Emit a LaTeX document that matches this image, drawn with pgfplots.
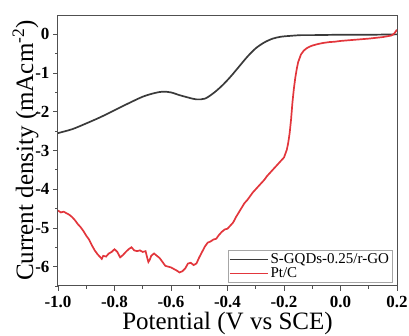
\documentclass[border=0pt]{standalone}
\usepackage{pgfplots}
\pgfplotsset{compat=1.18}
\usepackage{fontspec}
\setmainfont{Liberation Serif}
\definecolor{blk}{HTML}{3A3A3A}
\definecolor{rd}{HTML}{E2363C}
\definecolor{frame}{HTML}{505050}
\begin{document}
\begin{tikzpicture}
\begin{axis}[
  name=ax,
  scale only axis,
  width=339pt, height=271pt,
  xmin=-1.0, xmax=0.2, ymin=-6.5, ymax=0.5,
  axis line style={frame, line width=1pt},
  xtick={-1,-0.8,-0.6,-0.4,-0.2,0,0.2},
  xticklabels={-1.0,-0.8,-0.6,-0.4,-0.2,0.0,0.2},
  ytick={-6,-5,-4,-3,-2,-1,0},
  yticklabels={-6,-5,-4,-3,-2,-1,0},
  minor xtick={-0.9,-0.7,-0.5,-0.3,-0.1,0.1},
  minor ytick={-6.5,-5.5,-4.5,-3.5,-2.5,-1.5,-0.5},
  tick align=outside,
  xtick pos=bottom, ytick pos=left,
  major tick length=5pt, minor tick length=3pt,
  tick style={frame, line width=0.8pt},
  ticklabel style={font=\fontsize{17}{17}\selectfont\bfseries},
  xticklabel style={anchor=base, yshift=-17pt, inner sep=1pt},
  xlabel={Potential (V vs SCE)},
  ylabel={Current density (mAcm\textsuperscript{-2})},
  label style={font=\fontsize{25}{25}\selectfont},
  xlabel style={at={(rel axis cs:0.5,0)}, anchor=base, yshift=-44pt, inner sep=1pt},
  ylabel style={yshift=-10pt},
  legend style={at={(rel axis cs:0.986,0.012)}, anchor=south east,
    font=\fontsize{15}{15}\selectfont, draw=gray!70, line width=0.6pt,
    inner sep=1pt, row sep=-1pt},
  legend cell align=left,
  legend image code/.code={\draw[#1, line width=1.5pt] (0pt,0pt) -- (38pt,0pt);},
  clip=true,
]
\addplot[blk, line width=1.7pt, smooth] coordinates {
(-1.00,-2.55) (-0.95,-2.45) (-0.90,-2.30) (-0.85,-2.14) (-0.80,-1.96)
(-0.75,-1.78) (-0.70,-1.61) (-0.66,-1.52) (-0.63,-1.48) (-0.60,-1.50)
(-0.57,-1.57) (-0.54,-1.63) (-0.51,-1.68) (-0.48,-1.66) (-0.45,-1.52)
(-0.42,-1.33) (-0.39,-1.10) (-0.36,-0.84) (-0.33,-0.58) (-0.30,-0.36)
(-0.27,-0.21) (-0.24,-0.11) (-0.21,-0.06) (-0.18,-0.04) (-0.14,-0.02)
(-0.10,-0.02) (0.00,-0.01) (0.10,-0.01) (0.20,0.00)
};
\addlegendentry{S-GQDs-0.25/r-GO}
\addplot[rd, line width=1.7pt] coordinates {
(-1.00,-4.55) (-0.99,-4.60) (-0.98,-4.58) (-0.97,-4.62) (-0.96,-4.66)
(-0.95,-4.72) (-0.94,-4.80) (-0.93,-4.90) (-0.92,-4.98) (-0.91,-5.08)
(-0.90,-5.20) (-0.89,-5.30) (-0.88,-5.45) (-0.87,-5.58) (-0.86,-5.68)
(-0.85,-5.76) (-0.845,-5.80) (-0.84,-5.72) (-0.83,-5.74) (-0.82,-5.66)
(-0.81,-5.62) (-0.80,-5.55) (-0.79,-5.62) (-0.78,-5.76) (-0.77,-5.70)
(-0.76,-5.62) (-0.75,-5.55) (-0.74,-5.50) (-0.73,-5.58) (-0.72,-5.60)
(-0.71,-5.58) (-0.70,-5.62) (-0.69,-5.60) (-0.685,-5.75) (-0.68,-5.88)
(-0.675,-5.82) (-0.67,-5.72) (-0.66,-5.66) (-0.65,-5.72) (-0.64,-5.78)
(-0.63,-5.88) (-0.62,-5.98) (-0.61,-6.00) (-0.60,-6.02) (-0.59,-6.06)
(-0.58,-6.10) (-0.57,-6.15) (-0.56,-6.12) (-0.55,-6.05) (-0.54,-5.92)
(-0.53,-5.90) (-0.52,-5.96) (-0.51,-5.92) (-0.50,-5.76) (-0.49,-5.62)
(-0.48,-5.48) (-0.47,-5.38) (-0.46,-5.35) (-0.45,-5.30) (-0.44,-5.28)
(-0.43,-5.18) (-0.42,-5.10) (-0.41,-5.04) (-0.40,-5.02) (-0.39,-4.94)
(-0.38,-4.86) (-0.37,-4.72) (-0.36,-4.60) (-0.35,-4.48) (-0.34,-4.36)
(-0.33,-4.28) (-0.32,-4.18) (-0.31,-4.08) (-0.30,-4.00) (-0.29,-3.92)
(-0.28,-3.84) (-0.27,-3.76) (-0.26,-3.66) (-0.25,-3.58) (-0.24,-3.50)
(-0.23,-3.42) (-0.22,-3.34) (-0.21,-3.26) (-0.20,-3.18) (-0.19,-2.98)
(-0.185,-2.80) (-0.18,-2.55) (-0.175,-2.20) (-0.17,-1.75) (-0.165,-1.40)
(-0.16,-1.12) (-0.155,-0.90) (-0.15,-0.72) (-0.14,-0.52) (-0.13,-0.42)
(-0.12,-0.36) (-0.11,-0.32) (-0.10,-0.29) (-0.08,-0.25) (-0.06,-0.22)
(-0.04,-0.20) (-0.02,-0.19) (0.00,-0.17) (0.05,-0.14) (0.10,-0.11)
(0.15,-0.07) (0.18,-0.03) (0.19,0.02) (0.20,0.12)
};
\addlegendentry{Pt/C}
\end{axis}
\pgfresetboundingbox
\path ([xshift=-58pt,yshift=-50pt]ax.south west) rectangle ([xshift=12pt,yshift=15pt]ax.north east);
\end{tikzpicture}
\end{document}
